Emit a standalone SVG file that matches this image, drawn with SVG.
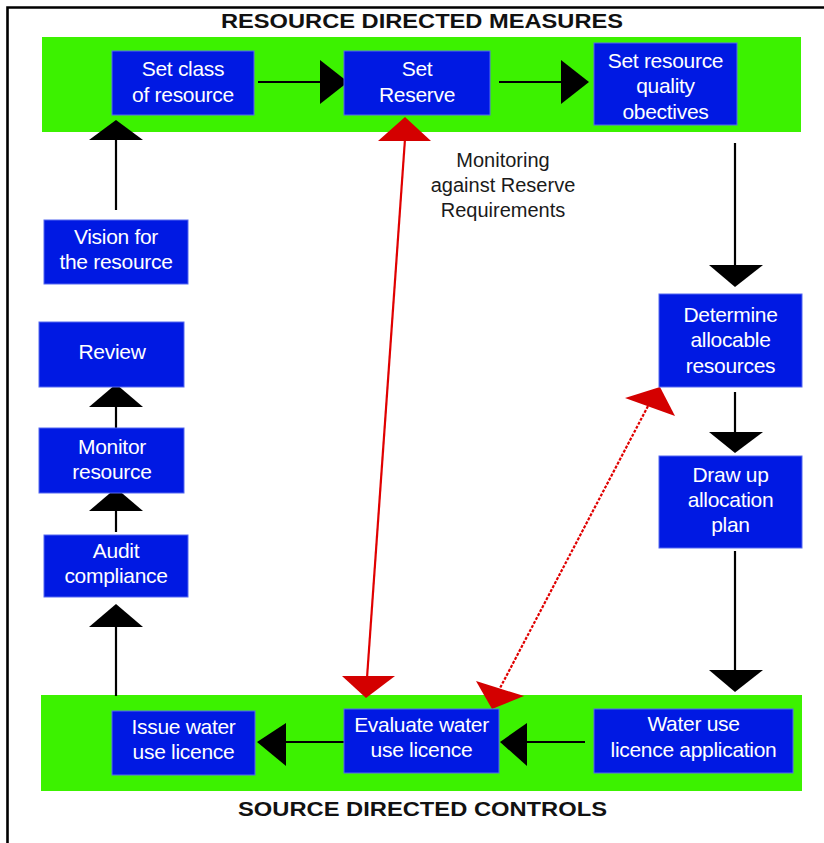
<svg xmlns="http://www.w3.org/2000/svg" width="824" height="843" viewBox="0 0 824 843">
<style>
.band{fill:#3cf200}
.box{fill:#0019e3;stroke:#5468f0;stroke-width:1}
.bt{font-family:"Liberation Sans",Arial,sans-serif;font-size:21px;fill:#fff;text-anchor:middle;letter-spacing:-0.3px}
.title{font-family:"Liberation Sans",Arial,sans-serif;font-size:21px;font-weight:bold;fill:#111;text-anchor:middle}
.note{font-family:"Liberation Sans",Arial,sans-serif;font-size:20px;fill:#1a1a1a;text-anchor:middle}
.ln{stroke:#000;stroke-width:2.2;fill:none}
.hd{fill:#000}
.rl{stroke:#e00000;stroke-width:2.2;fill:none}
.rd{stroke:#e00000;stroke-width:2.2;fill:none;stroke-dasharray:3 1.5}
.rh{fill:#d40000}
</style>
<rect width="824" height="843" fill="#fff"/>
<path d="M7.5 843 V7.5 H824" stroke="#000" stroke-width="2.6" fill="none"/>
<text class="title" x="422" y="27.5" textLength="402" lengthAdjust="spacingAndGlyphs">RESOURCE DIRECTED MEASURES</text>
<text class="title" x="422.5" y="816" textLength="369" lengthAdjust="spacingAndGlyphs">SOURCE DIRECTED CONTROLS</text>
<rect class="band" x="42" y="37" width="759" height="95"/>
<rect class="band" x="41" y="695" width="761" height="96"/>
<g id="connectors">
<line class="ln" x1="258" y1="82" x2="322" y2="82"/><polygon class="hd" points="320,60 348,82 320,104"/>
<line class="ln" x1="499" y1="82" x2="563" y2="82"/><polygon class="hd" points="561,60 589,82 561,104"/>
<line class="ln" x1="735" y1="143" x2="735" y2="267"/><polygon class="hd" points="709,265 763,265 735,287"/>
<line class="ln" x1="735" y1="392" x2="735" y2="434"/><polygon class="hd" points="709,432 763,432 735,453"/>
<line class="ln" x1="735" y1="551" x2="735" y2="672"/><polygon class="hd" points="709,670 763,670 735,692"/>
<line class="ln" x1="585" y1="742" x2="525" y2="742"/><polygon class="hd" points="527,723 527,766 500,742"/>
<line class="ln" x1="345" y1="742" x2="284" y2="742"/><polygon class="hd" points="286,723 286,766 257,742"/>
<line class="ln" x1="116" y1="696" x2="116" y2="625"/><polygon class="hd" points="89,627 143,627 116,604"/>
<line class="ln" x1="116" y1="532" x2="116" y2="509"/><polygon class="hd" points="89,511 143,511 116,488"/>
<line class="ln" x1="116" y1="428" x2="116" y2="405"/><polygon class="hd" points="89,407 143,407 116,384"/>
<line class="ln" x1="116" y1="210" x2="116" y2="138"/><polygon class="hd" points="89,140 143,140 116,120"/>
<line class="rl" x1="405" y1="139" x2="367" y2="678"/>
<polygon class="rh" points="378,141 431,141 405,117"/>
<polygon class="rh" points="342,676 395,676 366,698"/>
<line class="rd" x1="648" y1="406" x2="499" y2="690"/>
<polygon class="rh" points="625,398 675,416 660,387"/>
<polygon class="rh" points="476,681 524,696 492,709"/>
</g>
<g id="n1"><rect class="box" x="112" y="51" width="142" height="64"/><text class="bt" x="183" y="75.5">Set class</text><text class="bt" x="183" y="102">of resource</text></g>
<g id="n2"><rect class="box" x="344" y="51" width="146" height="64"/><text class="bt" x="417" y="75.5">Set</text><text class="bt" x="417" y="102">Reserve</text></g>
<g id="n3"><rect class="box" x="594" y="43" width="143" height="82"/><text class="bt" x="665.5" y="67.5">Set resource</text><text class="bt" x="665.5" y="93">quality</text><text class="bt" x="665.5" y="118.5">obectives</text></g>
<g id="n4"><rect class="box" x="44" y="220" width="144" height="64"/><text class="bt" x="116" y="243.5">Vision for</text><text class="bt" x="116" y="268.5">the resource</text></g>
<g id="n5"><rect class="box" x="39" y="322" width="145" height="65"/><text class="bt" x="112" y="358.5">Review</text></g>
<g id="n6"><rect class="box" x="39" y="428" width="145" height="65"/><text class="bt" x="112" y="453.5">Monitor</text><text class="bt" x="112" y="478.5">resource</text></g>
<g id="n7"><rect class="box" x="44" y="535" width="144" height="62"/><text class="bt" x="116" y="557.5">Audit</text><text class="bt" x="116" y="582.5">compliance</text></g>
<g id="n8"><rect class="box" x="659" y="294" width="143" height="93"/><text class="bt" x="730.5" y="321.5">Determine</text><text class="bt" x="730.5" y="347">allocable</text><text class="bt" x="730.5" y="372.5">resources</text></g>
<g id="n9"><rect class="box" x="659" y="456" width="143" height="92"/><text class="bt" x="730.5" y="481.5">Draw up</text><text class="bt" x="730.5" y="506.5">allocation</text><text class="bt" x="730.5" y="532">plan</text></g>
<g id="n10"><rect class="box" x="594" y="709" width="199" height="64"/><text class="bt" x="693.5" y="730.5">Water use</text><text class="bt" x="693.5" y="756.5">licence application</text></g>
<g id="n11"><rect class="box" x="344" y="709" width="155" height="64"/><text class="bt" x="421.5" y="731.5">Evaluate water</text><text class="bt" x="421.5" y="756.5">use licence</text></g>
<g id="n12"><rect class="box" x="112" y="711" width="143" height="64"/><text class="bt" x="183.5" y="733.5">Issue water</text><text class="bt" x="183.5" y="758.5">use licence</text></g>
<g id="label"><text class="note" x="503" y="167">Monitoring</text><text class="note" x="503" y="192">against Reserve</text><text class="note" x="503" y="217">Requirements</text></g>
</svg>
